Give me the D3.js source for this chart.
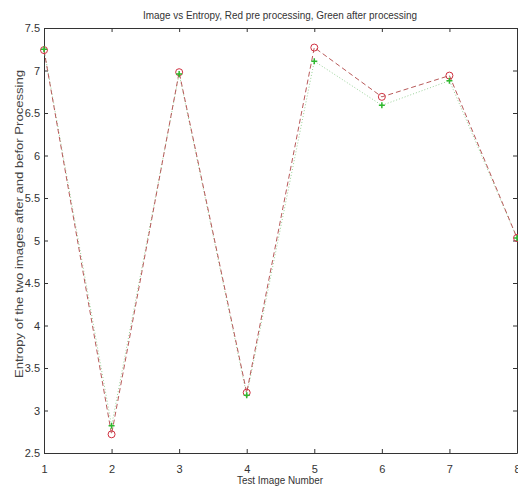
<!DOCTYPE html>
<html>
<head>
<meta charset="utf-8">
<script src="https://cdn.jsdelivr.net/npm/d3@7"></script>
<style>
  body { margin: 0; background: #fff; }
  svg { display: block; font-family: "Liberation Sans", Arial, sans-serif; }
</style>
</head>
<body>
<svg id="chart" width="518" height="486"></svg>
<script>
// test image numbers
let images = [1, 2, 3, 4, 5, 6, 7, 8];
// entropy before processing (red circles)
let preEntropy = [7.24, 2.72, 6.98, 3.21, 7.27, 6.69, 6.94, 5.03];
// entropy after processing (green plus)
let postEntropy = [7.25, 2.82, 6.96, 3.18, 7.11, 6.59, 6.88, 5.03];
let yTicks = [2.5, 3, 3.5, 4, 4.5, 5, 5.5, 6, 6.5, 7, 7.5];

let svg = d3.select("#chart");
let padL = 44, padR = 517, padT = 28, padB = 453;

let xScale = d3.scaleLinear().domain([1, 8]).range([padL, padR]);
let yScale = d3.scaleLinear().domain([2.5, 7.5]).range([padB, padT]);

let axisColor = "#333";

// axes (ticks pointing inwards, like matlab)
let fmt = (d) => d3.format("")(d);
svg.append("g")
  .attr("transform", "translate(0," + padB + ")")
  .call(d3.axisBottom(xScale).tickValues(images).tickSizeInner(-4).tickSizeOuter(0).tickPadding(12).tickFormat(fmt));
svg.append("g")
  .attr("transform", "translate(0," + padT + ")")
  .call(d3.axisTop(xScale).tickValues(images).tickSizeInner(-4).tickSizeOuter(0).tickFormat(""));
svg.append("g")
  .attr("transform", "translate(" + padL + ",0)")
  .call(d3.axisLeft(yScale).tickValues(yTicks).tickSizeInner(-4).tickSizeOuter(0).tickPadding(4).tickFormat(fmt));
svg.append("g")
  .attr("transform", "translate(" + padR + ",0)")
  .call(d3.axisRight(yScale).tickValues(yTicks).tickSizeInner(-4).tickSizeOuter(0).tickFormat(""));

svg.selectAll(".domain").attr("stroke", axisColor);
svg.selectAll(".tick line").attr("stroke", axisColor);
svg.selectAll(".tick text")
  .attr("fill", "#333")
  .style("font-size", "11px");

let line = (vals) => d3.line()
  .x((d, i) => xScale(images[i]))
  .y((d) => yScale(d))(vals);

// green line (after processing), dotted
svg.append("path")
  .attr("d", line(postEntropy))
  .attr("fill", "none")
  .attr("stroke", "#9ad39a")
  .attr("stroke-width", 1)
  .attr("stroke-dasharray", "1,2");

// red line (pre processing), dashed
svg.append("path")
  .attr("d", line(preEntropy))
  .attr("fill", "none")
  .attr("stroke", "#b85a5a")
  .attr("stroke-width", 1)
  .attr("stroke-dasharray", "5,3");

// red circles
svg.selectAll("circle.pre")
  .data(preEntropy)
  .enter()
  .append("circle")
  .attr("class", "pre")
  .attr("cx", (d, i) => xScale(images[i]))
  .attr("cy", (d) => yScale(d))
  .attr("r", 3.5)
  .attr("fill", "none")
  .attr("stroke", "#d03040")
  .attr("stroke-width", 1);

// green plus markers
svg.selectAll("path.post")
  .data(postEntropy)
  .enter()
  .append("path")
  .attr("class", "post")
  .attr("d", "M-3,0H3M0,-3V3")
  .attr("transform", (d, i) => "translate(" + xScale(images[i]) + "," + yScale(d) + ")")
  .attr("stroke", "#2eb82e")
  .attr("stroke-width", 1.5)
  .attr("fill", "none");

// title and axis labels (squeezed to the narrow matlab font width)
svg.append("text")
  .attr("x", 280)
  .attr("y", 19)
  .attr("text-anchor", "middle")
  .attr("fill", "#333")
  .attr("textLength", 274)
  .attr("lengthAdjust", "spacingAndGlyphs")
  .style("font-size", "11px")
  .text("Image vs Entropy, Red pre processing, Green after processing");

svg.append("text")
  .attr("x", 280)
  .attr("y", 484)
  .attr("text-anchor", "middle")
  .attr("fill", "#333")
  .attr("textLength", 86)
  .attr("lengthAdjust", "spacingAndGlyphs")
  .style("font-size", "11px")
  .text("Test Image Number");

svg.append("text")
  .attr("transform", "translate(23,224) rotate(-90)")
  .attr("text-anchor", "middle")
  .attr("fill", "#444")
  .attr("textLength", 308)
  .attr("lengthAdjust", "spacingAndGlyphs")
  .style("font-size", "11px")
  .text("Entropy of the two images after and befor Processing");
</script>
</body>
</html>
